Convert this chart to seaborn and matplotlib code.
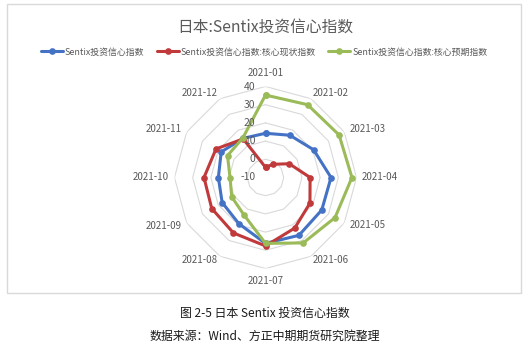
import numpy as np
import pandas as pd
import matplotlib
matplotlib.use("Agg")
import matplotlib.pyplot as plt
import seaborn as sns
from matplotlib.patches import Rectangle

# ---------------- data ----------------
months = ["2021-01", "2021-02", "2021-03", "2021-04", "2021-05", "2021-06",
          "2021-07", "2021-08", "2021-09", "2021-10", "2021-11", "2021-12"]
sentix = [14.3, 16.8, 20.5, 26.0, 25.7, 26.7, 26.2, 19.3, 17.5, 15.9, 18.1, 14.8]
current = [-4.4, -1.6, 5.1, 14.5, 18.2, 22.1, 27.6, 25.2, 24.1, 23.8, 21.4, 14.5]
expect = [35.3, 36.2, 36.7, 37.5, 34.1, 31.5, 26.2, 13.7, 11.4, 9.5, 14.1, 15.0]
series_names = ["Sentix投资信心指数", "Sentix投资信心指数:核心现状指数", "Sentix投资信心指数:核心预期指数"]
series_values = [sentix, current, expect]
r_ticks = [-10, 0, 10, 20, 30, 40]
title = "日本:Sentix投资信心指数"
caption1 = "图 2-5 日本 Sentix 投资信心指数"
caption2 = "数据来源：Wind、方正中期期货研究院整理"

colors = ["#4472C4", "#C0393B", "#9BBB59"]
gray = "#595959"
grid_c = "#D9D9D9"

# ---------------- build table (closed polygons) ----------------
n = len(months)
theta = np.arange(n) * 2 * np.pi / n
closed = np.append(theta, 2 * np.pi)
frames = []
for name, vals in zip(series_names, series_values):
    frames.append(pd.DataFrame({"series": name, "theta": closed,
                                "value": list(vals) + [vals[0]]}))
df = pd.concat(frames, ignore_index=True)

# ---------------- figure ----------------
sns.set_theme(style="white")
plt.rcParams["font.family"] = ["Noto Sans CJK SC", "DejaVu Sans"]

W, H = 531, 351
fig = plt.figure(figsize=(W / 100, H / 100), dpi=100)
fig.patch.set_facecolor("white")

# chart frame
fig.add_artist(Rectangle((7 / W, 1 - 293 / H), 514 / W, 289 / H,
                         transform=fig.transFigure, fill=False,
                         edgecolor=grid_c, linewidth=1.0))

cx, cy, R = 265.5, 177.5, 91
ax = fig.add_axes([(cx - R) / W, 1 - (cy + R) / H, 2 * R / W, 2 * R / H],
                  projection="polar")
ax.set_theta_zero_location("N")
ax.set_theta_direction(-1)
ax.set_facecolor("none")

# polygon gridlines
for rv in r_ticks[1:]:
    ax.plot(closed, [rv] * len(closed), color=grid_c, lw=0.8, zorder=0)

sns.lineplot(data=df, x="theta", y="value", hue="series", hue_order=series_names,
             palette=dict(zip(series_names, colors)), sort=False, estimator=None,
             marker="o", markersize=4.8, markeredgewidth=0, linewidth=2.2,
             ax=ax, legend=True)

ax.set_ylim(-10, 40)
ax.grid(False)
ax.spines["polar"].set_visible(False)
ax.set_xticks([])
ax.set_yticks([])
ax.set_xlabel("")
ax.set_ylabel("")
handles, labels = ax.get_legend_handles_labels()
if ax.get_legend() is not None:
    ax.get_legend().remove()

# month labels
px2pt = 0.72
offs = {0: (0, 13.5, "center"), 1: (2, 5.5, "left"), 2: (5, 3, "left"),
        3: (5.5, 0, "left"), 4: (5, -2.5, "left"), 5: (2, -4, "left"),
        6: (0, -12.5, "center")}
for i, m in enumerate(months):
    if i <= 6:
        dx, dy, ha = offs[i]
    else:
        dx, dy, ha = offs[12 - i]
        dx = -dx
        ha = "right" if ha == "left" else ha
    ax.annotate(m, xy=(theta[i], 40), xytext=(dx * px2pt, dy * px2pt),
                textcoords="offset points", ha=ha, va="center",
                fontsize=7, color=gray)

# radial labels
for rv in r_ticks:
    ax.annotate(str(rv), xy=(0, rv), xytext=(-10 * px2pt, 0),
                textcoords="offset points", ha="right", va="center",
                fontsize=7.5, color=gray)

# title
fig.text(cx / W, 1 - 27 / H, title, ha="center", va="center",
         fontsize=11.3, color=gray)

# legend
fig.legend(handles, labels, loc="center", bbox_to_anchor=(264 / W, 1 - 52 / H),
           ncol=3, frameon=False, fontsize=6.4, labelcolor=gray,
           handlelength=2.5, handletextpad=0.2, columnspacing=1.4,
           borderaxespad=0, borderpad=0)

# captions
fig.text(265 / W, 1 - 313 / H, caption1, ha="center", va="center",
         fontsize=8.6, color="#1a1a1a")
fig.text(265 / W, 1 - 336 / H, caption2, ha="center", va="center",
         fontsize=8.6, color="#1a1a1a")

fig.savefig("out.png", dpi=100, facecolor="white")
